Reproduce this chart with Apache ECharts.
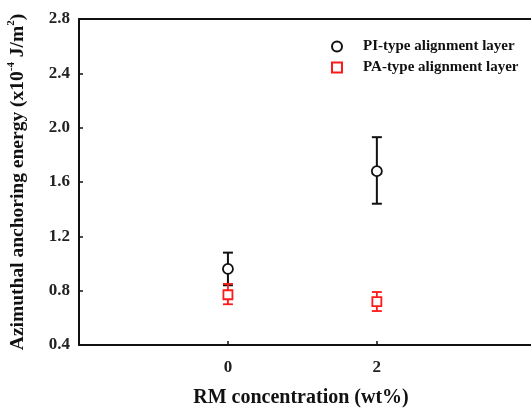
<!DOCTYPE html>
<html>
<head>
<meta charset="utf-8">
<script src="https://cdn.jsdelivr.net/npm/echarts@6/dist/echarts.min.js"></script>
<style>
  html, body { margin: 0; padding: 0; background: #fff; }
  #main { width: 531px; height: 410px; }
</style>
</head>
<body>
<div id="main"></div>
<script>
// RM concentration (wt%)
var concentrations = [0, 2];
// PI-type layer: mean, low, high
var piMean = [0.96, 1.68];
var piLow = [0.84, 1.44];
var piHigh = [1.08, 1.93];
// PA-type layer
var paMean = [0.77, 0.72];
var paLow = [0.70, 0.65];
var paHigh = [0.85, 0.79];

var font = "Liberation Serif";

function errorBars(low, high, color, width) {
  return {
    type: "custom",
    silent: true,
    data: concentrations.map(function (c, i) { return [c, low[i], high[i]]; }),
    encode: { x: 0, y: [1, 2] },
    renderItem: function (params, api) {
      var lo = api.coord([api.value(0), api.value(1)]);
      var hi = api.coord([api.value(0), api.value(2)]);
      var half = 5;
      var style = { stroke: color, lineWidth: width };
      return {
        type: "group",
        children: [
          { type: "line", shape: { x1: lo[0], y1: lo[1], x2: hi[0], y2: hi[1] }, style: style },
          { type: "line", shape: { x1: lo[0] - half, y1: lo[1], x2: lo[0] + half, y2: lo[1] }, style: style },
          { type: "line", shape: { x1: hi[0] - half, y1: hi[1], x2: hi[0] + half, y2: hi[1] }, style: style }
        ]
      };
    }
  };
}

var chart = echarts.init(document.getElementById("main"));
chart.setOption({
  animation: false,
  grid: { left: 79, right: 0, top: 19, bottom: 65, outerBoundsMode: "none", containLabel: false },
  legend: {
    orient: "vertical",
    left: 326,
    top: 34,
    itemWidth: 10,
    itemHeight: 10,
    itemGap: 6,
    textStyle: { fontFamily: font, fontWeight: "bold", fontSize: 15, color: "#111", padding: [0, 0, 0, 16] },
    data: ["PI-type alignment layer", "PA-type alignment layer"]
  },
  xAxis: [{
    type: "value",
    min: -2,
    max: 4.07,
    splitLine: { show: false },
    axisLine: { onZero: false, lineStyle: { color: "#111", width: 2 } },
    axisTick: { inside: true, length: 4, customValues: concentrations, lineStyle: { color: "#111", width: 1.5 } },
    axisLabel: {
      customValues: concentrations,
      margin: 14,
      fontFamily: font, fontWeight: "bold", fontSize: 17, color: "#222"
    },
    name: "RM concentration (wt%)",
    nameLocation: "middle",
    nameGap: 43,
    nameTextStyle: { fontFamily: font, fontWeight: "bold", fontSize: 20, color: "#111", padding: [0, 8, 0, 0] }
  }, {
    type: "value",
    position: "top",
    min: -2,
    max: 4.07,
    splitLine: { show: false },
    axisLine: { onZero: false, lineStyle: { color: "#111", width: 2 } },
    axisTick: { show: false },
    axisLabel: { show: false }
  }],
  yAxis: {
    type: "value",
    min: 0.4,
    max: 2.8,
    interval: 0.4,
    splitLine: { show: false },
    axisLine: { onZero: false, lineStyle: { color: "#111", width: 2 } },
    axisTick: { inside: true, length: 4, lineStyle: { color: "#111", width: 1.5 } },
    axisLabel: {
      margin: 9,
      fontFamily: font, fontWeight: "bold", fontSize: 17, color: "#222",
      formatter: function (v) { return v.toFixed(1); }
    },
    name: "{t|Azimuthal anchoring energy (x10}{s|-4}{t| J/m}{s|2}{t|)}",
    nameLocation: "middle",
    nameGap: 51,
    nameRotate: 90,
    nameTextStyle: {
      rich: {
        t: { fontFamily: font, fontWeight: "bold", fontSize: 19.5, color: "#111", verticalAlign: "bottom", lineHeight: 22 },
        s: { fontFamily: font, fontWeight: "bold", fontSize: 11, color: "#111", verticalAlign: "top", lineHeight: 22 }
      }
    }
  },
  series: [
    errorBars(piLow, piHigh, "#111", 2),
    errorBars(paLow, paHigh, "#ff1a1a", 1.8),
    {
      name: "PI-type alignment layer",
      type: "scatter",
      symbol: "circle",
      symbolSize: 10,
      itemStyle: { color: "#fff", borderColor: "#111", borderWidth: 1.8, opacity: 1 },
      data: concentrations.map(function (c, i) { return [c, piMean[i]]; }),
      z: 5
    },
    {
      name: "PA-type alignment layer",
      type: "scatter",
      symbol: "rect",
      symbolSize: 9,
      itemStyle: { color: "#fff", borderColor: "#ff1a1a", borderWidth: 1.8, opacity: 1 },
      data: concentrations.map(function (c, i) { return [c, paMean[i]]; }),
      z: 5
    }
  ]
});
</script>
</body>
</html>
